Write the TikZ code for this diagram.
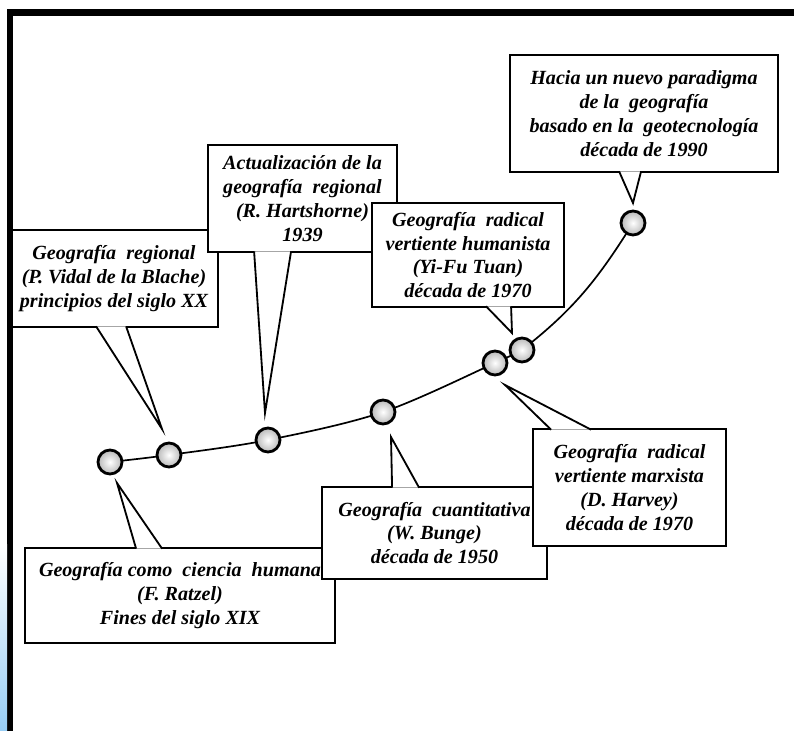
\documentclass[tikz,border=0pt]{standalone}
\usepackage{fontspec}
\setmainfont{Liberation Serif}
\usetikzlibrary{calc}

\definecolor{edgeblue}{RGB}{150,205,245}

\begin{document}
\begin{tikzpicture}[
    box/.style={rectangle, draw, line width=1.3pt, fill=white, inner sep=0pt, align=center,
        font=\fontsize{14.3}{17}\selectfont\bfseries\itshape},
    tail/.style={draw, fill=white, line width=1.3pt},
    stop/.style={circle, draw, line width=2pt, minimum size=0.6cm, inner sep=0pt,
        inner color=white, outer color=gray!55},
    timeline/.style={line width=1.2pt}
]
    \useasboundingbox (0,0) rectangle (19.85,18.275);

    % points on the timeline
    \coordinate (p1) at (2.75,6.725);
    \coordinate (p2) at (4.225,6.9);
    \coordinate (p3) at (6.7,7.275);
    \coordinate (p4) at (9.575,7.975);
    \coordinate (p5) at (12.375,9.2);
    \coordinate (p6) at (13.05,9.525);
    \coordinate (p7) at (15.825,12.7);

    \draw[timeline] plot[smooth, tension=0.55] coordinates {(p1) (p2) (p3) (p4) (p5) (p6)};
    \draw[timeline] (p6) to[out=38, in=-122] (p7);

    % tips of the callouts
    \coordinate (t1) at (2.925,6.2);
    \coordinate (t2) at (4.05,7.55);
    \coordinate (t3) at (6.625,7.95);
    \coordinate (t4) at (9.775,7.35);
    \coordinate (t5) at (12.625,8.65);
    \coordinate (t6) at (12.8,9.95);
    \coordinate (t7) at (15.825,13.2);

    % callout boxes
    \node[box, minimum width=7.75cm, minimum height=2.375cm] (ratzel) at (4.5,3.3875)
        {Geografía como\ \ ciencia\ \ humana\\(F. Ratzel)\\Fines del siglo XIX};
    \draw[tail] ($(ratzel.north west)+(2.8,-0.04)$) -- (t1) -- ($(ratzel.north west)+(3.45,-0.04)$);

    \node[box, minimum width=5.2cm, minimum height=2.425cm] (vidal) at (2.85,11.3125)
        {Geografía\ \ regional\\(P. Vidal de la Blache)\\principios del siglo XX};
    \draw[tail] ($(vidal.south west)+(2.175,0.04)$) -- (t2) -- ($(vidal.south west)+(2.925,0.04)$);

    \node[box, minimum width=4.725cm, minimum height=2.675cm] (hartshorne) at (7.5625,13.3125)
        {Actualización de la\\geografía\ \ regional\\(R. Hartshorne)\\1939};
    \draw[tail] ($(hartshorne.south west)+(1.175,0.04)$) -- (t3) -- ($(hartshorne.south west)+(2.1,0.04)$);

    \node[box, minimum width=4.8cm, minimum height=2.6cm] (tuan) at (11.7,11.9)
        {Geografía\ \ radical\\vertiente humanista\\(Yi-Fu Tuan)\\década de 1970};
    \draw[tail] ($(tuan.south west)+(2.875,0.04)$) -- (t6) -- ($(tuan.south west)+(3.5,0.04)$);

    \node[box, minimum width=5.625cm, minimum height=2.3cm] (bunge) at (10.8625,4.95)
        {Geografía\ \ cuantitativa\\(W. Bunge)\\década de 1950};
    \draw[tail] ($(bunge.north west)+(1.775,-0.04)$) -- (t4) -- ($(bunge.north west)+(2.45,-0.04)$);

    \node[box, minimum width=4.825cm, minimum height=2.925cm] (harvey) at (15.7375,6.0875)
        {Geografía\ \ radical\\vertiente marxista\\(D. Harvey)\\década de 1970};
    \draw[tail] ($(harvey.north west)+(0.475,-0.04)$) -- (t5) -- ($(harvey.north west)+(1.475,-0.04)$);

    \node[box, minimum width=6.7cm, minimum height=2.925cm] (paradigma) at (16.1,15.4375)
        {Hacia un nuevo paradigma\\de la\ \ geografía\\basado en la\ \ geotecnología\\década de 1990};
    \draw[tail] ($(paradigma.south west)+(2.75,0.04)$) -- (t7) -- ($(paradigma.south west)+(3.3,0.04)$);

    % stops on the timeline
    \foreach \i in {1,...,7}
        \node[stop] (s\i) at (p\i) {};

    % frame of the page
    \fill (0.175,17.875) rectangle (19.85,18.05);
    \fill (0.175,0) rectangle (0.325,18.05);
    \shade[top color=white, bottom color=edgeblue] (0,0) rectangle (0.175,4.65);

\end{tikzpicture}
\end{document}
